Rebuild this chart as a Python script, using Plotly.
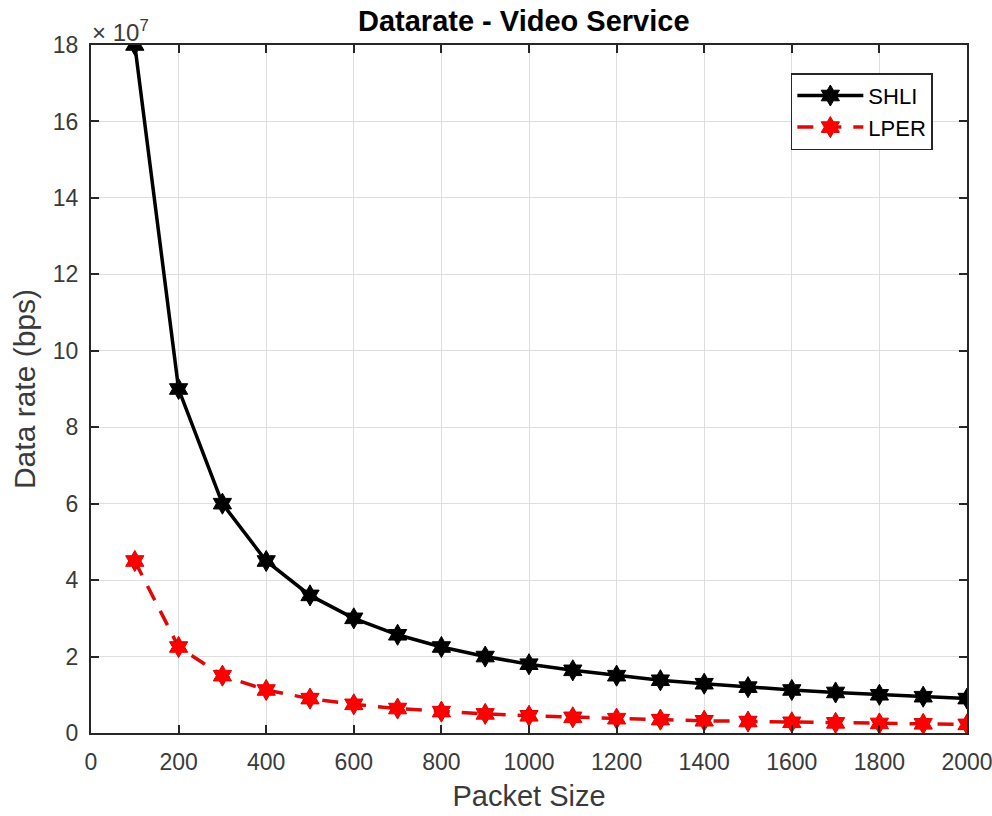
import plotly.graph_objects as go

packet_size = [100, 200, 300, 400, 500, 600, 700, 800, 900, 1000,
               1100, 1200, 1300, 1400, 1500, 1600, 1700, 1800, 1900, 2000]
# data rate in units of 1e7 bps
shli = [18.0, 9.0, 6.0, 4.5, 3.6, 3.0, 2.57, 2.25, 2.0, 1.8,
        1.64, 1.5, 1.38, 1.29, 1.2, 1.125, 1.06, 1.0, 0.95, 0.9]
lper = [4.5, 2.25, 1.5, 1.125, 0.9, 0.75, 0.64, 0.56, 0.5, 0.45,
        0.41, 0.375, 0.35, 0.32, 0.3, 0.28, 0.265, 0.25, 0.24, 0.225]

x_ticks = list(range(0, 2001, 200))
y_ticks = list(range(0, 19, 2))

font_family = "Liberation Sans, Arial, sans-serif"
text_gray = "#3a3a3a"

fig = go.Figure()
fig.add_trace(go.Scatter(
    x=packet_size, y=shli, name="SHLI", mode="lines+markers",
    line=dict(color="black", width=3.5),
    marker=dict(symbol="hexagram", size=16, color="black",
                line=dict(color="black", width=1)),
))
fig.add_trace(go.Scatter(
    x=packet_size, y=lper, name="LPER", mode="lines+markers",
    line=dict(color="#dd0a0a", width=3.5, dash="16px,12px"),
    marker=dict(symbol="hexagram", size=16, color="#ff0000",
                line=dict(color="#e00000", width=1)),
))

axis_common = dict(
    showgrid=True, gridcolor="#dedede", gridwidth=1,
    showline=True, linecolor="#262626", linewidth=2, mirror="ticks",
    ticks="inside", ticklen=8, tickcolor="#262626", tickwidth=1.5,
    tickfont=dict(family=font_family, size=23, color=text_gray),
    zeroline=False, automargin=False, ticklabeloverflow="allow",
)

fig.update_xaxes(
    range=[0, 2000], tickvals=x_ticks, ticklabelstandoff=7,
    title=dict(text="Packet Size", font=dict(family=font_family, size=29, color=text_gray),
               standoff=12),
    **axis_common,
)
fig.update_yaxes(
    range=[0, 18], tickvals=y_ticks, ticklabelstandoff=6,
    title=dict(text="Data rate (bps)", font=dict(family=font_family, size=30, color=text_gray),
               standoff=8),
    **axis_common,
)

fig.add_annotation(
    xref="paper", yref="paper", x=0.0, y=1.0, xanchor="left", yanchor="bottom",
    text="× 10<sup>7</sup>", showarrow=False,
    xshift=-1, yshift=-3,
    font=dict(family=font_family, size=24, color=text_gray),
)

fig.update_layout(
    width=992, height=816,
    margin=dict(l=91, r=25, t=45, b=83),
    paper_bgcolor="white", plot_bgcolor="white",
    title=dict(text="<b>Datarate - Video Service</b>", x=0.528, xanchor="center",
               y=0.974, yanchor="middle",
               font=dict(family=font_family, size=29, color="black")),
    legend=dict(
        x=0.961, y=0.959, xanchor="right", yanchor="top",
        bgcolor="white", bordercolor="#262626", borderwidth=1.5,
        font=dict(family=font_family, size=22, color="black"),
        itemwidth=66,
    ),
    showlegend=True,
)

fig.write_html("out.html")
